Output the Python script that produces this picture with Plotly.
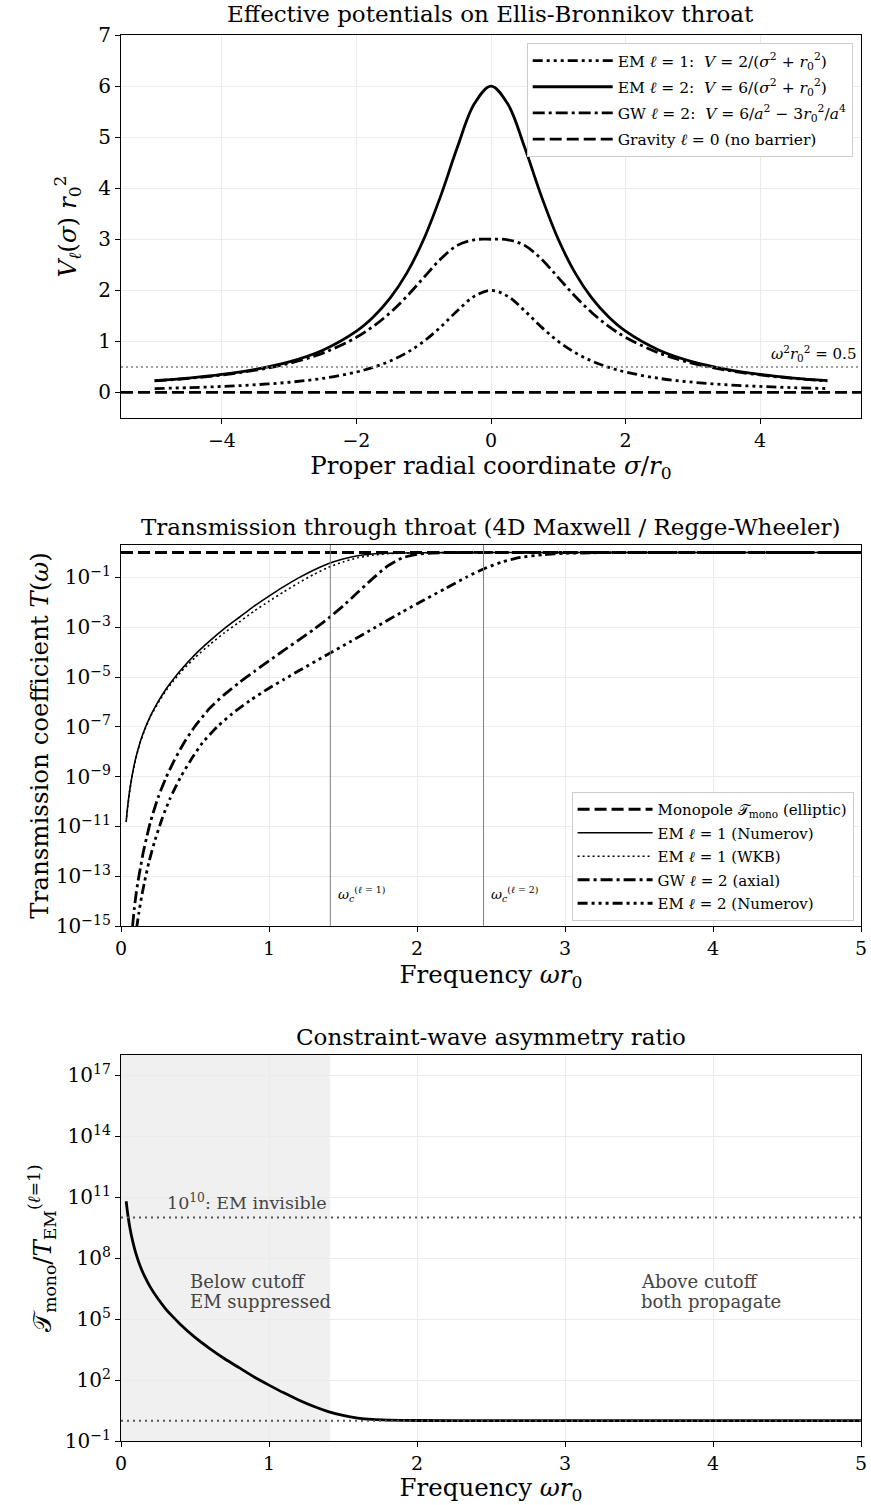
import plotly.graph_objects as go

FONT = "DejaVu Serif"

# ---------------- Panel 1 data: effective potentials ----------------
sigma = [-5, -4.5, -4, -3.5, -3, -2.5, -2, -1.75, -1.5, -1.25, -1, -0.75, -0.5, -0.25, 0,
         0.25, 0.5, 0.75, 1, 1.25, 1.5, 1.75, 2, 2.5, 3, 3.5, 4, 4.5, 5]
V_em1 = [0.077, 0.094, 0.118, 0.151, 0.2, 0.276, 0.4, 0.492, 0.615, 0.780, 1.0, 1.28, 1.6, 1.882, 2.0,
         1.882, 1.6, 1.28, 1.0, 0.780, 0.615, 0.492, 0.4, 0.276, 0.2, 0.151, 0.118, 0.094, 0.077]
V_em2 = [0.231, 0.282, 0.353, 0.453, 0.6, 0.828, 1.2, 1.477, 1.846, 2.341, 3.0, 3.84, 4.8, 5.647, 6.0,
         5.647, 4.8, 3.84, 3.0, 2.341, 1.846, 1.477, 1.2, 0.828, 0.6, 0.453, 0.353, 0.282, 0.231]
V_gw2 = [0.227, 0.275, 0.343, 0.436, 0.57, 0.771, 1.08, 1.295, 1.562, 1.884, 2.25, 2.611, 2.88, 2.990, 3.0,
         2.990, 2.88, 2.611, 2.25, 1.884, 1.562, 1.295, 1.08, 0.771, 0.57, 0.436, 0.343, 0.275, 0.227]
sigma_grav = [-5.5, 5.5]
V_grav = [0, 0]
omega2_level = 0.5

# ---------------- Panel 2 data: transmission ----------------
w_mono = [0, 1, 2, 3, 4, 5]
T_mono = [1.0, 1.0, 1.0, 1.0, 1.0, 1.0]

w_em1 = [0.035, 0.045, 0.06, 0.08, 0.1, 0.13, 0.16, 0.2, 0.25, 0.3, 0.35, 0.4, 0.5, 0.6, 0.7,
         0.8, 0.9, 1.0, 1.1, 1.2, 1.3, 1.4, 1.5, 1.6, 1.7, 1.8, 2.0, 2.5, 3.0, 4.0, 5.0]
T_em1_num = [1.585e-11, 6.31e-11, 3.16e-10, 1.585e-9, 5.62e-9, 2.51e-8, 7.94e-8, 2.82e-7, 1.0e-6,
             3.02e-6, 7.59e-6, 1.78e-5, 7.94e-5, 2.82e-4, 8.91e-4, 2.51e-3, 7.08e-3, 1.78e-2,
             4.27e-2, 9.55e-2, 0.195, 0.355, 0.550, 0.741, 0.871, 0.933, 0.977, 1.0, 1.0, 1.0, 1.0]
T_em1_wkb = [1.48e-11, 5.89e-11, 2.95e-10, 1.48e-9, 5.25e-9, 2.34e-8, 7.41e-8, 2.63e-7, 8.91e-7,
             2.63e-6, 6.46e-6, 1.48e-5, 6.03e-5, 2.0e-4, 6.03e-4, 1.62e-3, 4.47e-3, 1.10e-2,
             2.63e-2, 6.03e-2, 0.129, 0.251, 0.417, 0.617, 0.776, 0.891, 0.966, 1.0, 1.0, 1.0, 1.0]

w_gw2 = [0.078, 0.09, 0.1, 0.115, 0.13, 0.15, 0.175, 0.2, 0.25, 0.3, 0.36, 0.43, 0.5, 0.6, 0.7,
         0.8, 0.9, 1.0, 1.1, 1.2, 1.3, 1.4, 1.5, 1.6, 1.7, 1.8, 1.9, 2.0, 2.1, 2.3, 3.0, 4.0, 5.0]
T_gw2 = [1.0e-15, 5.01e-15, 1.585e-14, 6.31e-14, 2.0e-13, 8.91e-13, 3.98e-12, 1.585e-11, 1.41e-10,
         7.94e-10, 4.47e-9, 2.51e-8, 1.05e-7, 5.62e-7, 2.0e-6, 6.03e-6, 1.66e-5, 4.47e-5, 1.17e-4,
         3.02e-4, 7.94e-4, 2.24e-3, 7.08e-3, 2.51e-2, 8.91e-2, 0.282, 0.603, 0.851, 0.955, 1.0,
         1.0, 1.0, 1.0]

w_em2 = [0.105, 0.12, 0.14, 0.16, 0.19, 0.23, 0.28, 0.33, 0.4, 0.47, 0.55, 0.65, 0.75, 0.87, 1.0,
         1.1, 1.21, 1.38, 1.55, 1.72, 1.89, 2.05, 2.2, 2.33, 2.45, 2.58, 2.7, 2.85, 3.0, 3.2, 3.5,
         4.0, 5.0]
T_em2 = [7.94e-16, 3.16e-15, 1.585e-14, 6.31e-14, 3.98e-13, 2.82e-12, 2.24e-11, 1.26e-10, 8.91e-10,
         4.47e-9, 2.24e-8, 1.0e-7, 3.31e-7, 1.12e-6, 3.55e-6, 7.94e-6, 1.905e-5, 7.08e-5, 2.63e-4,
         1.0e-3, 3.80e-3, 1.26e-2, 3.80e-2, 0.1, 0.219, 0.427, 0.631, 0.813, 0.923, 0.977, 1.0,
         1.0, 1.0]

omega_c = [1.4142, 2.4495]
omega_c_labels = ["<i>ω</i><sub><i>c</i></sub><sup>(<i>ℓ</i> = 1)</sup>",
                  "<i>ω</i><sub><i>c</i></sub><sup>(<i>ℓ</i> = 2)</sup>"]

# ---------------- Panel 3 data: asymmetry ratio ----------------
w_ratio = [0.035, 0.045, 0.06, 0.08, 0.1, 0.13, 0.16, 0.2, 0.25, 0.3, 0.35, 0.4, 0.5, 0.6, 0.7,
           0.8, 0.9, 1.0, 1.1, 1.2, 1.3, 1.4, 1.5, 1.6, 1.7, 1.8, 2.0, 2.5, 3.0, 4.0, 5.0]
ratio = [6.31e10, 1.585e10, 3.16e9, 6.31e8, 1.78e8, 3.98e7, 1.26e7, 3.55e6, 1.0e6, 3.31e5,
         1.32e5, 5.62e4, 1.26e4, 3.55e3, 1.12e3, 398, 141, 56.2, 23.4, 10.5, 5.13, 2.82, 1.82,
         1.35, 1.15, 1.07, 1.02, 1.0, 1.0, 1.0, 1.0]
ratio_levels = [1e10, 1.0]

# ---------------- layout geometry ----------------
W, H = 871, 1505
def px_y(top, bottom):
    return [1 - bottom / H, 1 - top / H]
xdom = [121 / W, 861 / W]
dom1 = px_y(35, 418)
dom2 = px_y(545, 926)
dom3 = px_y(1055, 1441)

fig = go.Figure()

lw = 2.8
DDD = "10px,4px,3px,4px,3px,4px,3px,4px"
DD = "12px,4px,3px,4px"
DASH = "12px,5px"
SM = 0.6

# Panel 1 traces
fig.add_trace(go.Scatter(x=sigma, y=V_em1, mode="lines", line=dict(color="black", width=lw, dash=DDD, shape="spline"),
                         name="EM <i>ℓ</i> = 1:  <i>V</i> = 2/(<i>σ</i><sup>2</sup> + <i>r</i><sub>0</sub><sup>2</sup>)",
                         xaxis="x", yaxis="y", legend="legend", legendgroup="a1"))
fig.add_trace(go.Scatter(x=sigma, y=V_em2, mode="lines", line=dict(color="black", width=lw, shape="spline"),
                         name="EM <i>ℓ</i> = 2:  <i>V</i> = 6/(<i>σ</i><sup>2</sup> + <i>r</i><sub>0</sub><sup>2</sup>)",
                         xaxis="x", yaxis="y", legend="legend", legendgroup="a2"))
fig.add_trace(go.Scatter(x=sigma, y=V_gw2, mode="lines", line=dict(color="black", width=lw, dash=DD, shape="spline"),
                         name="GW <i>ℓ</i> = 2:  <i>V</i> = 6/<i>a</i><sup>2</sup> − 3<i>r</i><sub>0</sub><sup>2</sup>/<i>a</i><sup>4</sup>",
                         xaxis="x", yaxis="y", legend="legend", legendgroup="a3"))
fig.add_trace(go.Scatter(x=sigma_grav, y=V_grav, mode="lines", line=dict(color="black", width=lw, dash=DASH),
                         name="Gravity <i>ℓ</i> = 0 (no barrier)",
                         xaxis="x", yaxis="y", legend="legend", legendgroup="a4"))
fig.add_trace(go.Scatter(x=sigma_grav, y=[omega2_level, omega2_level], mode="lines",
                         line=dict(color="gray", width=1.5, dash="2px,3px"), showlegend=False,
                         xaxis="x", yaxis="y", hoverinfo="skip"))

# Panel 2 traces
fig.add_trace(go.Scatter(x=w_mono, y=T_mono, mode="lines", line=dict(color="black", width=lw, dash=DASH),
                         name="Monopole 𝒯<sub>mono</sub> (elliptic)", xaxis="x2", yaxis="y2", legend="legend2", legendgroup="b1"))
fig.add_trace(go.Scatter(x=w_em1, y=T_em1_num, mode="lines", line=dict(color="black", width=1.6, shape="spline", smoothing=SM),
                         name="EM <i>ℓ</i> = 1 (Numerov)", xaxis="x2", yaxis="y2", legend="legend2", legendgroup="b2"))
fig.add_trace(go.Scatter(x=w_em1, y=T_em1_wkb, mode="lines", line=dict(color="black", width=1.6, dash="2px,3px", shape="spline", smoothing=SM),
                         name="EM <i>ℓ</i> = 1 (WKB)", xaxis="x2", yaxis="y2", legend="legend2", legendgroup="b3"))
fig.add_trace(go.Scatter(x=w_gw2, y=T_gw2, mode="lines", line=dict(color="black", width=lw, dash=DD, shape="spline", smoothing=SM),
                         name="GW <i>ℓ</i> = 2 (axial)", xaxis="x2", yaxis="y2", legend="legend2", legendgroup="b4"))
fig.add_trace(go.Scatter(x=w_em2, y=T_em2, mode="lines", line=dict(color="black", width=lw, dash=DDD, shape="spline", smoothing=SM),
                         name="EM <i>ℓ</i> = 2 (Numerov)", xaxis="x2", yaxis="y2", legend="legend2", legendgroup="b5"))

# Panel 3 traces
fig.add_trace(go.Scatter(x=w_ratio, y=ratio, mode="lines", line=dict(color="black", width=lw, shape="spline", smoothing=SM),
                         showlegend=False, xaxis="x3", yaxis="y3"))
for lev in ratio_levels:
    fig.add_trace(go.Scatter(x=[0, 5], y=[lev, lev], mode="lines",
                             line=dict(color="#555555", width=2, dash="2px,4px"), showlegend=False,
                             xaxis="x3", yaxis="y3", hoverinfo="skip"))

# Shapes
shapes = [dict(type="rect", xref="x3", yref="y3 domain", x0=0, x1=omega_c[0], y0=0, y1=1,
               fillcolor="#f0f0f0", line=dict(width=0), layer="below")]
for wc in omega_c:
    shapes.append(dict(type="line", xref="x2", yref="y2 domain", x0=wc, x1=wc, y0=0, y1=1,
                       line=dict(color="gray", width=1), layer="above"))

axis_common = dict(showline=True, linecolor="black", linewidth=1.2, mirror=True, ticks="outside",
                   ticklen=5, tickwidth=1.2, tickcolor="black", gridcolor="#ebebeb", gridwidth=1,
                   zeroline=False, automargin=False)
yfont = dict(family=FONT, size=20, color="black")
xfont = dict(family=FONT, size=19, color="black")

tick2 = [-15, -13, -11, -9, -7, -5, -3, -1]
tick3 = [-1, 2, 5, 8, 11, 14, 17]

def sup_label(e):
    s = str(e).replace("-", "−")
    return f"10<sup>{s}</sup>"

TS = 23
GRAY_TXT = "#444444"
annotations = [
    dict(text="Effective potentials on Ellis-Bronnikov throat", x=0.5637, y=1 - 14 / H, xref="paper", yref="paper",
         showarrow=False, font=dict(family=FONT, size=TS, color="black"), xanchor="center", yanchor="middle"),
    dict(text="Transmission through throat (4D Maxwell / Regge-Wheeler)", x=0.5637, y=1 - 527 / H, xref="paper", yref="paper",
         showarrow=False, font=dict(family=FONT, size=TS, color="black"), xanchor="center", yanchor="middle"),
    dict(text="Constraint-wave asymmetry ratio", x=0.5637, y=1 - 1037 / H, xref="paper", yref="paper",
         showarrow=False, font=dict(family=FONT, size=TS, color="black"), xanchor="center", yanchor="middle"),
    dict(text="<i>ω</i><sup>2</sup><i>r</i><sub>0</sub><sup>2</sup> = 0.5", x=5.45, y=omega2_level, xref="x", yref="y",
         showarrow=False, font=dict(family=FONT, size=15, color="black"), xanchor="right", yanchor="bottom", yshift=1),
    dict(text="10<sup>10</sup>: EM invisible", x=0.3, y=10, xref="x3", yref="y3",
         showarrow=False, font=dict(family=FONT, size=17.5, color=GRAY_TXT), xanchor="left", yanchor="bottom", yshift=3),
]
for txt, xx, yy in [("Below cutoff", 0.45, 6.83), ("EM suppressed", 0.45, 5.85),
                    ("Above cutoff", 3.5, 6.83), ("both propagate", 3.5, 5.85)]:
    annotations.append(dict(text=txt, x=xx, y=yy, xref="x3", yref="y3", showarrow=False,
                            font=dict(family=FONT, size=18, color=GRAY_TXT), xanchor="left", yanchor="middle"))
for wc, lab in zip(omega_c, omega_c_labels):
    annotations.append(dict(text=lab, x=wc + 0.04, y=-13.7, xref="x2", yref="y2", showarrow=False,
                            font=dict(family=FONT, size=13.5, color="black"), xanchor="left", yanchor="middle"))

title_font = dict(family=FONT, size=24.5, color="black")

fig.update_layout(
    width=W, height=H, margin=dict(l=0, r=0, t=0, b=0),
    paper_bgcolor="white", plot_bgcolor="white",
    font=dict(family=FONT, color="black"),
    shapes=shapes, annotations=annotations,
    xaxis=dict(domain=xdom, anchor="y", range=[-5.5, 5.5], tickvals=[-4, -2, 0, 2, 4], tickfont=xfont,
               title=dict(text="Proper radial coordinate <i>σ</i>/<i>r</i><sub>0</sub>", font=title_font, standoff=5), **axis_common),
    yaxis=dict(domain=dom1, anchor="x", range=[-0.5, 7], tickvals=[0, 1, 2, 3, 4, 5, 6, 7], tickfont=yfont,
               title=dict(text="<i>V</i><sub><i>ℓ</i></sub>(<i>σ</i>) <i>r</i><sub>0</sub><sup>2</sup>", font=title_font, standoff=14), **axis_common),
    xaxis2=dict(domain=xdom, anchor="y2", range=[0, 5], tickvals=[0, 1, 2, 3, 4, 5], tickfont=xfont,
                title=dict(text="Frequency <i>ωr</i><sub>0</sub>", font=title_font, standoff=7), **axis_common),
    yaxis2=dict(domain=dom2, anchor="x2", type="log", range=[-15, 0.301], tickfont=yfont,
                tickvals=[10.0 ** e for e in tick2], ticktext=[sup_label(e) for e in tick2],
                title=dict(text="Transmission coefficient <i>T</i>(<i>ω</i>)", font=title_font, standoff=0), **axis_common),
    xaxis3=dict(domain=xdom, anchor="y3", range=[0, 5], tickvals=[0, 1, 2, 3, 4, 5], tickfont=xfont,
                title=dict(text="Frequency <i>ωr</i><sub>0</sub>", font=title_font, standoff=7), **axis_common),
    yaxis3=dict(domain=dom3, anchor="x3", type="log", range=[-1, 18], tickfont=yfont,
                tickvals=[10.0 ** e for e in tick3], ticktext=[sup_label(e) for e in tick3],
                title=dict(text="𝒯<sub>mono</sub>/<i>T</i><sub>EM</sub><sup>(<i>ℓ</i>=1)</sup>", font=title_font, standoff=6), **axis_common),
    legend=dict(x=0.979, y=1 - 43 / H, xanchor="right", yanchor="top", bgcolor="white", itemwidth=80,
                tracegroupgap=3, bordercolor="#cccccc", borderwidth=1,
                font=dict(family=FONT, size=15.5, color="black")),
    legend2=dict(x=0.980, y=1 - 921 / H, xanchor="right", yanchor="bottom", bgcolor="white", itemwidth=75,
                 tracegroupgap=1, bordercolor="#cccccc", borderwidth=1,
                 font=dict(family=FONT, size=15, color="black")),
)

fig.write_html("out.html")
